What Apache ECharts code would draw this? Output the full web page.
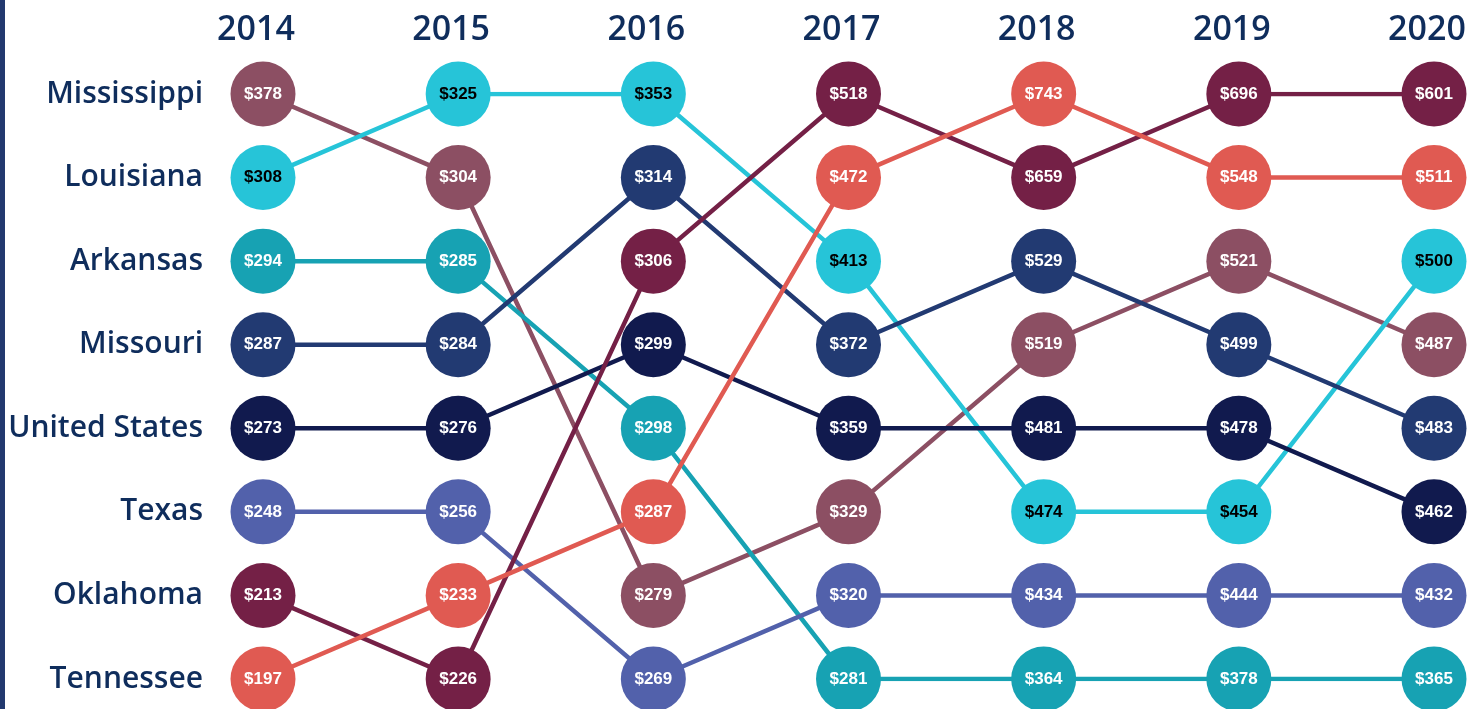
<!DOCTYPE html>
<html>
<head>
<meta charset="utf-8">
<title>Bump chart</title>
<script src="https://cdn.jsdelivr.net/npm/echarts@6/dist/echarts.min.js"></script>
<style>
  html, body { margin: 0; padding: 0; background: #fff; }
  #main { width: 1470px; height: 709px; border-left: 5px solid #22396f; }
</style>
</head>
<body>
<div id="main"></div>
<script>
// years on the x axis
var years = ['2014', '2015', '2016', '2017', '2018', '2019', '2020'];
// row labels (top to bottom = rank 1..8)
var rowLabels = ['Mississippi', 'Louisiana', 'Arkansas', 'Missouri', 'United States', 'Texas', 'Oklahoma', 'Tennessee'];

// yearly values per state
var mississippi = [378, 304, 279, 329, 519, 521, 487];
var louisiana   = [308, 325, 353, 413, 474, 454, 500];
var arkansas    = [294, 285, 298, 281, 364, 378, 365];
var missouri    = [287, 284, 314, 372, 529, 499, 483];
var unitedStates= [273, 276, 299, 359, 481, 478, 462];
var texas       = [248, 256, 269, 320, 434, 444, 432];
var oklahoma    = [213, 226, 306, 518, 659, 696, 601];
var tennessee   = [197, 233, 287, 472, 743, 548, 511];

var states = [
  { name: 'Mississippi',   values: mississippi,  color: '#8c4f63', text: '#fff' },
  { name: 'Louisiana',     values: louisiana,    color: '#26c4d8', text: '#000' },
  { name: 'Arkansas',      values: arkansas,     color: '#17a2b3', text: '#fff' },
  { name: 'Missouri',      values: missouri,     color: '#223a72', text: '#fff' },
  { name: 'United States', values: unitedStates, color: '#111a4e', text: '#fff' },
  { name: 'Texas',         values: texas,        color: '#5261ab', text: '#fff' },
  { name: 'Oklahoma',      values: oklahoma,     color: '#742046', text: '#fff' },
  { name: 'Tennessee',     values: tennessee,    color: '#e05a52', text: '#fff' }
];

// rank of each state in each year (1 = highest value)
function rankOf(s, yi) {
  var v = states[s].values[yi];
  var r = 1;
  for (var k = 0; k < states.length; k++) {
    if (states[k].values[yi] > v) r++;
  }
  return r;
}

var series = [];
states.forEach(function (st, s) {
  var pts = years.map(function (y, yi) {
    return { value: [yi, rankOf(s, yi)], cost: st.values[yi] };
  });
  // connecting line, kept under every circle
  series.push({
    name: st.name,
    type: 'line',
    z: 1,
    showSymbol: false,
    silent: true,
    lineStyle: { width: 4.5, color: st.color },
    data: pts
  });
  // circles with the dollar labels
  series.push({
    name: st.name,
    type: 'scatter',
    z: 3,
    symbolSize: 65,
    itemStyle: { color: st.color, opacity: 1 },
    label: {
      show: true,
      position: 'inside',
      color: st.text,
      fontFamily: 'Liberation Sans, Arial, sans-serif',
      fontWeight: 'bold',
      fontSize: 17,
      formatter: function (p) { return '$' + p.data.cost; }
    },
    data: pts
  });
});

var chart = echarts.init(document.getElementById('main'));
chart.setOption({
  animation: false,
  grid: { left: 258, right: 41, top: 94, bottom: 30 },
  xAxis: {
    type: 'category',
    position: 'top',
    boundaryGap: false,
    data: years,
    axisLine: { show: false },
    axisTick: { show: false },
    splitLine: { show: false },
    axisLabel: {
      margin: 47,
      padding: [0, 14, 0, 0],
      color: '#0f2d5c',
      fontFamily: 'Open Sans, sans-serif',
      fontWeight: 600,
      fontSize: 34
    }
  },
  yAxis: {
    type: 'value',
    inverse: true,
    min: 1,
    max: 8,
    interval: 1,
    axisLine: { show: false },
    axisTick: { show: false },
    splitLine: { show: false },
    axisLabel: {
      margin: 60,
      color: '#0f2d5c',
      fontFamily: 'Open Sans, sans-serif',
      fontWeight: 600,
      fontSize: 30,
      formatter: function (v) { return rowLabels[v - 1] || ''; }
    }
  },
  series: series
});
</script>
</body>
</html>
